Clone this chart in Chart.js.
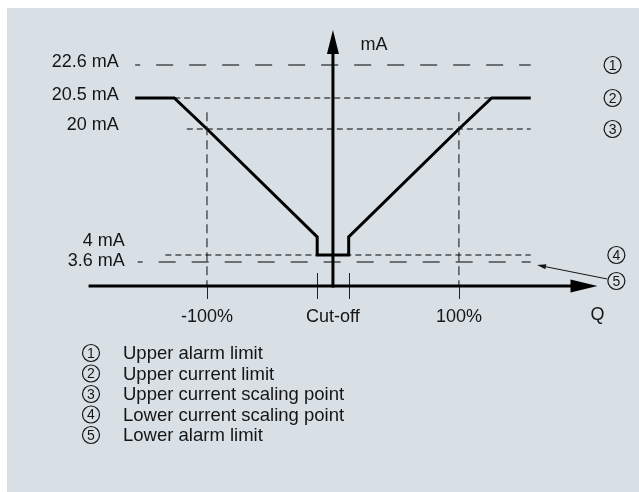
<!DOCTYPE html>
<html>
<head>
<meta charset="utf-8">
<script src="https://cdn.jsdelivr.net/npm/chart.js@4/dist/chart.umd.min.js"></script>
<style>
  html, body { margin: 0; padding: 0; background: #fff; }
  canvas { display: block; }
</style>
</head>
<body>
<canvas id="myChart" width="639" height="492"></canvas>
<script>
// output current (mA) over flow Q (%)
var curveQ  = [-157, -126, -100, -12.5, -12.5, 12.5, 12.5, 100, 126, 157]
var curveMA = [20.5, 20.5, 20, 6.3, 4, 4, 6.3, 20, 20.5, 20.5]

// horizontal limit lines
var limitMA     = [22.6, 20.5, 20, 4, 3.6]
var limitFromQ  = [-157, -126, -116, -133, -155]
var limitToQ    = [157, 157, 157, 157, 157]
var limitLabels = ['22.6 mA', '20.5 mA', '20 mA', '4 mA', '3.6 mA']
var limitMarks  = ['1', '2', '3', '4', '5']

// x axis
var qTicks       = [-100, -12.5, 12.5, 100]
var qLabelValues = [-100, 0, 100]
var qLabels      = ['-100%', 'Cut-off', '100%']
var guideQ       = [-100, 100]
var guideTopMA   = 20.27

var legendItems = [
  'Upper alarm limit',
  'Upper current limit',
  'Upper current scaling point',
  'Lower current scaling point',
  'Lower alarm limit'
]

var FONT = '"Liberation Sans", Arial, sans-serif'
var INK = '#151515'

// the drawing is schematic: the mA axis is stretched piecewise
class SchematicScale extends Chart.LinearScale {
  warp(v) {
    var k = this.options.knots
    if (v <= k[0][0]) return k[0][1]
    for (var i = 1; i < k.length; i++) {
      if (v <= k[i][0]) {
        var t = (v - k[i-1][0]) / (k[i][0] - k[i-1][0])
        return k[i-1][1] + t * (k[i][1] - k[i-1][1])
      }
    }
    return k[k.length-1][1]
  }
  unwarp(d) {
    var k = this.options.knots
    for (var i = 1; i < k.length; i++) {
      if (d <= k[i][1]) {
        var t = (d - k[i-1][1]) / (k[i][1] - k[i-1][1])
        return k[i-1][0] + t * (k[i][0] - k[i-1][0])
      }
    }
    return k[k.length-1][0]
  }
  getPixelForValue(value) {
    return value === null ? NaN : this.getPixelForDecimal(this.warp(value))
  }
  getValueForPixel(pixel) {
    return this.unwarp(this.getDecimalForPixel(pixel))
  }
}
SchematicScale.id = 'schematic'
SchematicScale.defaults = Chart.LinearScale.defaults
Chart.register(SchematicScale)

function pts(xs, ys) {
  return xs.map((x, i) => ({x: x, y: ys[i]}))
}

function circled(c, cx, cy, txt) {
  c.beginPath()
  c.arc(cx, cy, 8.5, 0, Math.PI * 2)
  c.lineWidth = 1.2
  c.strokeStyle = INK
  c.stroke()
  c.fillStyle = INK
  c.font = '14px ' + FONT
  c.textAlign = 'center'
  c.textBaseline = 'middle'
  c.fillText(txt, cx, cy + 1)
}

function arrowHead(c, tx, ty, ang, len, half) {
  c.beginPath()
  c.moveTo(tx, ty)
  c.lineTo(tx - len * Math.cos(ang) + half * Math.sin(ang), ty - len * Math.sin(ang) - half * Math.cos(ang))
  c.lineTo(tx - len * Math.cos(ang) - half * Math.sin(ang), ty - len * Math.sin(ang) + half * Math.cos(ang))
  c.closePath()
  c.fill()
}

var diagram = {
  id: 'diagram',
  beforeDraw(chart) {
    var c = chart.ctx
    c.save()
    c.fillStyle = '#fff'
    c.fillRect(0, 0, chart.width, chart.height)
    c.fillStyle = '#d8e0e6'
    c.fillRect(7, 8, chart.width - 7, chart.height - 8)
    c.restore()
  },
  afterDatasetsDraw(chart) {
    var c = chart.ctx, xs = chart.scales.x, ys = chart.scales.y
    var ax = xs.getPixelForValue(0)
    var ay = ys.getPixelForValue(ys.options.min)
    var top = ys.getPixelForValue(ys.options.max)
    c.save()

    // ticks under the Q axis
    c.strokeStyle = '#222'
    c.lineWidth = 1
    qTicks.forEach(q => {
      var px = Math.round(xs.getPixelForValue(q)) + 0.5
      var from = Math.abs(q) === 100 ? ay : ay - 13
      c.beginPath(); c.moveTo(px, from); c.lineTo(px, ay + 13); c.stroke()
    })

    // axes
    c.strokeStyle = '#000'
    c.fillStyle = '#000'
    c.lineWidth = 3
    var xEnd = xs.getPixelForValue(210)
    c.beginPath(); c.moveTo(xs.getPixelForValue(-194), ay); c.lineTo(xEnd - 20, ay); c.stroke()
    arrowHead(c, xEnd, ay, 0, 27, 6.5)
    c.beginPath(); c.moveTo(ax, ay + 1.5); c.lineTo(ax, top + 18); c.stroke()
    arrowHead(c, ax, top, -Math.PI / 2, 24, 6)

    // mA level labels
    c.fillStyle = INK
    c.font = '18px ' + FONT
    c.textAlign = 'right'
    c.textBaseline = 'middle'
    var nudge = [[0, -3], [0, -3], [0, -4], [6, -14], [6, -1]]
    limitMA.forEach((v, i) => {
      c.fillText(limitLabels[i], xs.getPixelForValue(-170) + nudge[i][0], ys.getPixelForValue(v) + nudge[i][1])
    })

    // Q labels
    c.textAlign = 'center'
    qLabelValues.forEach((q, i) => {
      c.fillText(qLabels[i], xs.getPixelForValue(q), ay + 31)
    })
    c.fillText('Q', xEnd, ay + 29)
    c.fillText('mA', ax + 41, top + 15)

    // circled markers on the right
    limitMA.forEach((v, i) => {
      var cy = ys.getPixelForValue(v)
      var cx = xs.getPixelForValue(i < 3 ? 222 : 225)
      if (i === 4) cy += 19
      circled(c, cx, cy, limitMarks[i])
    })
    // pointer from 5 to the lower alarm line
    var tipX = xs.getPixelForValue(162), tipY = ys.getPixelForValue(3.6) + 3
    var fromX = xs.getPixelForValue(225) - 9, fromY = ys.getPixelForValue(3.6) + 17
    c.strokeStyle = INK
    c.fillStyle = INK
    c.lineWidth = 1
    c.beginPath(); c.moveTo(fromX, fromY); c.lineTo(tipX + 6, tipY + 1.2); c.stroke()
    arrowHead(c, tipX, tipY, Math.atan2(tipY - fromY, tipX - fromX), 9, 2.5)

    // legend
    legendItems.forEach((t, i) => {
      var y = 353 + i * 20.5
      circled(c, 91, y, limitMarks[i])
      c.fillStyle = INK
      c.font = '18.5px ' + FONT
      c.textAlign = 'left'
      c.textBaseline = 'middle'
      c.fillText(t, 123, y + 1)
    })
    c.restore()
  }
}

var datasets = []
// limit lines: alarm limits long dashes, current limits short dashes
limitMA.forEach((v, i) => {
  var alarm = (i === 0 || i === 4)
  datasets.push({
    data: pts([limitFromQ[i], limitToQ[i]], [v, v]),
    borderColor: '#000',
    borderWidth: 1.1,
    borderDash: alarm ? [17, 16] : [6, 4],
    borderDashOffset: alarm ? 12 : 0,
    pointRadius: 0,
    clip: false
  })
})
// vertical guides at +-100 %
guideQ.forEach(q => {
  datasets.push({
    data: pts([q, q], [guideTopMA, 0.5]),
    borderColor: '#222',
    borderWidth: 1.1,
    borderDash: [9, 5],
    pointRadius: 0,
    clip: false
  })
})
// characteristic curve
datasets.push({
  data: pts(curveQ, curveMA),
  borderColor: '#000',
  borderWidth: 3,
  borderJoinStyle: 'miter',
  pointRadius: 0,
  tension: 0,
  clip: false
})

var ctx = document.getElementById('myChart').getContext('2d')
var chart = new Chart(ctx, {
  type: 'line',
  data: { datasets: datasets },
  options: {
    responsive: false,
    animation: false,
    devicePixelRatio: 1,
    layout: { padding: { left: 81, right: 39, top: 30, bottom: 206 } },
    scales: {
      x: { type: 'linear', min: -200, max: 212, display: false },
      y: {
        type: 'schematic', min: 0.5, max: 25, display: false,
        knots: [[0.5, 0], [3.6, 24 / 256], [4, 31 / 256], [20, 157 / 256], [20.5, 188 / 256], [22.6, 221 / 256], [25, 1]]
      }
    },
    plugins: { legend: { display: false }, tooltip: { enabled: false } }
  },
  plugins: [diagram]
})
</script>
</body>
</html>
